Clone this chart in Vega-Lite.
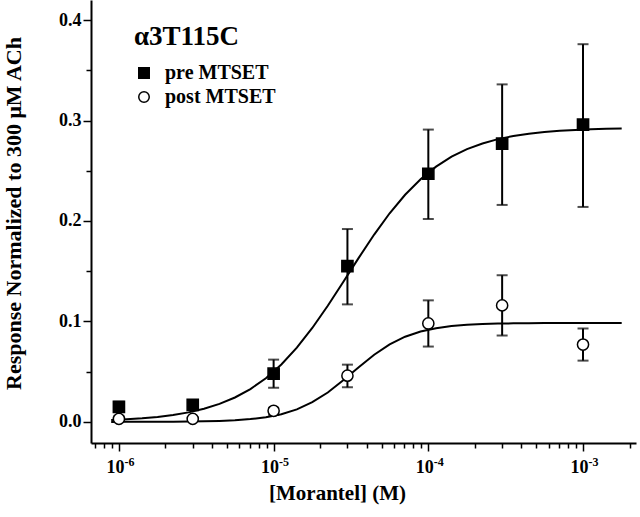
{
  "$schema": "https://vega.github.io/schema/vega-lite/v6.json",
  "width": 545,
  "height": 443,
  "autosize": {"type": "none"},
  "padding": {"left": 91, "top": 0, "right": 4, "bottom": 74},
  "background": "white",
  "config": {
    "font": "Liberation Serif",
    "view": {"stroke": null},
    "axis": {"domainColor": "black", "domainWidth": 2, "tickColor": "black", "tickWidth": 1.5, "grid": false, "labelColor": "black", "titleColor": "black", "labelFont": "Liberation Serif", "titleFont": "Liberation Serif", "labelFontWeight": "bold", "titleFontWeight": "bold", "labelFontSize": 18, "titleFontSize": 22}
  },
  "datasets": {
    "points": [
      {"series": "pre MTSET", "conc": 1e-6, "mean": 0.015, "lo": 0.010, "hi": 0.020},
      {"series": "pre MTSET", "conc": 3e-6, "mean": 0.017, "lo": 0.015, "hi": 0.019},
      {"series": "pre MTSET", "conc": 1e-5, "mean": 0.048, "lo": 0.034, "hi": 0.062},
      {"series": "pre MTSET", "conc": 3e-5, "mean": 0.155, "lo": 0.117, "hi": 0.192},
      {"series": "pre MTSET", "conc": 1e-4, "mean": 0.247, "lo": 0.202, "hi": 0.291},
      {"series": "pre MTSET", "conc": 3e-4, "mean": 0.277, "lo": 0.216, "hi": 0.336},
      {"series": "pre MTSET", "conc": 1e-3, "mean": 0.296, "lo": 0.214, "hi": 0.376},
      {"series": "post MTSET", "conc": 1e-6, "mean": 0.003, "lo": 0.001, "hi": 0.006},
      {"series": "post MTSET", "conc": 3e-6, "mean": 0.003, "lo": 0.001, "hi": 0.005},
      {"series": "post MTSET", "conc": 1e-5, "mean": 0.011, "lo": 0.007, "hi": 0.014},
      {"series": "post MTSET", "conc": 3e-5, "mean": 0.046, "lo": 0.0345, "hi": 0.057},
      {"series": "post MTSET", "conc": 1e-4, "mean": 0.098, "lo": 0.075, "hi": 0.121},
      {"series": "post MTSET", "conc": 3e-4, "mean": 0.116, "lo": 0.086, "hi": 0.146},
      {"series": "post MTSET", "conc": 1e-3, "mean": 0.077, "lo": 0.061, "hi": 0.093}
    ],
    "curves": [
      {"conc": 8.913e-7, "pre": 0.0019, "post": 0.00002},
      {"conc": 1.122e-6, "pre": 0.0026, "post": 0.00004},
      {"conc": 1.413e-6, "pre": 0.0036, "post": 0.00007},
      {"conc": 1.778e-6, "pre": 0.0050, "post": 0.00011},
      {"conc": 2.239e-6, "pre": 0.0069, "post": 0.0002},
      {"conc": 2.818e-6, "pre": 0.0095, "post": 0.00033},
      {"conc": 3.548e-6, "pre": 0.0131, "post": 0.00057},
      {"conc": 4.467e-6, "pre": 0.0179, "post": 0.00097},
      {"conc": 5.623e-6, "pre": 0.0243, "post": 0.0016},
      {"conc": 7.079e-6, "pre": 0.0327, "post": 0.0028},
      {"conc": 8.913e-6, "pre": 0.0435, "post": 0.0047},
      {"conc": 1.122e-5, "pre": 0.0572, "post": 0.0077},
      {"conc": 1.413e-5, "pre": 0.0739, "post": 0.0125},
      {"conc": 1.778e-5, "pre": 0.0935, "post": 0.0196},
      {"conc": 2.239e-5, "pre": 0.1156, "post": 0.0293},
      {"conc": 2.818e-5, "pre": 0.1393, "post": 0.0414},
      {"conc": 3.548e-5, "pre": 0.1633, "post": 0.0545},
      {"conc": 4.467e-5, "pre": 0.1865, "post": 0.0669},
      {"conc": 5.623e-5, "pre": 0.2077, "post": 0.0772},
      {"conc": 7.079e-5, "pre": 0.2261, "post": 0.0848},
      {"conc": 8.913e-5, "pre": 0.2415, "post": 0.0900},
      {"conc": 1.122e-4, "pre": 0.2541, "post": 0.0933},
      {"conc": 1.413e-4, "pre": 0.2640, "post": 0.0954},
      {"conc": 1.778e-4, "pre": 0.2715, "post": 0.0967},
      {"conc": 2.239e-4, "pre": 0.2772, "post": 0.0974},
      {"conc": 2.818e-4, "pre": 0.2815, "post": 0.0979},
      {"conc": 3.548e-4, "pre": 0.2846, "post": 0.0981},
      {"conc": 4.467e-4, "pre": 0.2869, "post": 0.0983},
      {"conc": 5.623e-4, "pre": 0.2886, "post": 0.0984},
      {"conc": 7.079e-4, "pre": 0.2898, "post": 0.0985},
      {"conc": 8.913e-4, "pre": 0.2907, "post": 0.0985},
      {"conc": 1.122e-3, "pre": 0.2913, "post": 0.0985},
      {"conc": 1.413e-3, "pre": 0.2918, "post": 0.0985},
      {"conc": 1.778e-3, "pre": 0.2921, "post": 0.0985}
    ]
  },
  "resolve": {"axis": {"x": "independent", "y": "independent"}},
  "layer": [
    {
      "data": {"name": "curves"},
      "transform": [{"fold": ["pre", "post"], "as": ["curve", "value"]}],
      "mark": {"type": "line", "color": "black", "strokeWidth": 2, "clip": true},
      "encoding": {
        "x": {"field": "conc", "type": "quantitative", "scale": {"type": "log", "domain": [6.6e-7, 2.2e-3], "nice": false},
          "axis": {"orient": "bottom", "title": "[Morantel] (M)", "titleFontSize": 21, "titleX": 246, "titleY": 50, "titleBaseline": "middle", "values": [1e-6, 1e-5, 1e-4, 1e-3], "tickSize": 8, "labelPadding": 7, "labelOffset": -4,
            "labelExpr": "'10'"}},
        "y": {"field": "value", "type": "quantitative", "scale": {"domain": [-0.021, 0.42], "nice": false, "zero": false},
          "axis": {"orient": "left", "title": "Response Normalized to 300 μM ACh", "titleX": -78, "titleY": 213, "titleBaseline": "middle", "values": [0, 0.1, 0.2, 0.3, 0.4], "format": ".1f", "tickSize": 8, "labelPadding": 2}},
        "detail": {"field": "curve"}
      }
    },
    {
      "data": {"name": "points"},
      "mark": {"type": "errorbar", "ticks": {"size": 11, "thickness": 2, "color": "black"}, "rule": {"strokeWidth": 2, "color": "black"}},
      "encoding": {
        "x": {"field": "conc", "type": "quantitative", "scale": {"type": "log", "domain": [6.6e-7, 2.2e-3], "nice": false},
          "axis": {"orient": "bottom", "title": null, "labels": false, "domain": false, "tickSize": 5,
            "values": [7e-7, 8e-7, 9e-7, 2e-6, 3e-6, 4e-6, 5e-6, 6e-6, 7e-6, 8e-6, 9e-6, 2e-5, 3e-5, 4e-5, 5e-5, 6e-5, 7e-5, 8e-5, 9e-5, 2e-4, 3e-4, 4e-4, 5e-4, 6e-4, 7e-4, 8e-4, 9e-4, 2e-3]}},
        "y": {"field": "lo", "type": "quantitative", "scale": {"domain": [-0.021, 0.42], "nice": false, "zero": false},
          "axis": {"orient": "left", "title": null, "labels": false, "domain": false, "tickSize": 5, "values": [0.05, 0.15, 0.25, 0.35]}},
        "y2": {"field": "hi"}
      }
    },
    {
      "data": {"name": "points"},
      "mark": {"type": "point", "filled": false, "strokeWidth": 1.5, "opacity": 1},
      "encoding": {
        "x": {"field": "conc", "type": "quantitative",
          "axis": {"orient": "bottom", "title": null, "domain": false, "ticks": false, "values": [1e-6, 1e-5, 1e-4, 1e-3], "labelFontSize": 12, "labelPadding": 13, "labelOffset": 10,
            "labelExpr": "datum.value < 5e-6 ? '-6' : datum.value < 5e-5 ? '-5' : datum.value < 5e-4 ? '-4' : '-3'"}},
        "y": {"field": "mean", "type": "quantitative", "axis": null},
        "shape": {"field": "series", "type": "nominal", "scale": {"domain": ["pre MTSET", "post MTSET"], "range": ["square", "circle"]},
          "legend": {"title": "α3T115C", "orient": "none", "legendX": 43, "legendY": 24, "titleFontSize": 27, "titleFont": "Liberation Serif", "titleFontWeight": "bold", "titleColor": "black", "titlePadding": 12,
            "labelFontSize": 20, "labelFont": "Liberation Serif", "labelFontWeight": "bold", "labelColor": "black", "labelOffset": 11, "rowPadding": 4, "symbolSize": 110, "symbolStrokeWidth": 1.5}},
        "fill": {"field": "series", "type": "nominal", "scale": {"domain": ["pre MTSET", "post MTSET"], "range": ["black", "white"]}, "legend": null},
        "stroke": {"value": "black"},
        "size": {"value": 125}
      }
    }
  ]
}
